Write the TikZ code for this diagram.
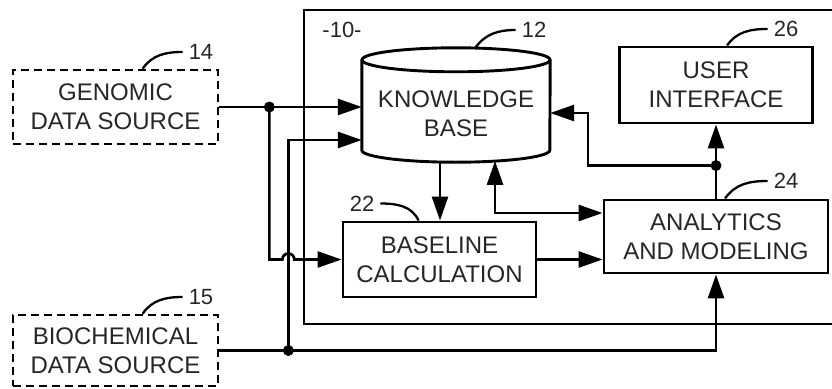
\documentclass[tikz,border=0pt]{standalone}
\usepackage{fontspec}
\setmainfont{Liberation Sans}
\usetikzlibrary{arrows.meta,calc}
\newcommand\dgmbox{\fontsize{24}{29}\selectfont}
\newcommand\dgmnum{\fontsize{22}{26}\selectfont}
\begin{document}
\begin{tikzpicture}[x=1pt,y=-1pt,
  wire/.style={line width=2.7pt},
  arr/.style={wire,-{Triangle[length=24pt,width=16pt]}},
  biarr/.style={wire,{Triangle[length=24pt,width=16pt]}-{Triangle[length=24pt,width=16pt]}},
  blk/.style={draw,line width=2.9pt,inner sep=0pt,align=center,font=\dgmbox,text=black!85},
  src/.style={blk,line width=2.7pt,dash pattern=on 8pt off 5pt},
  num/.style={font=\dgmnum,text=black!85,inner sep=0pt},
  lead/.style={line width=2.3pt},
  dot/.style={circle,fill,inner sep=0pt,minimum size=11pt}]
\useasboundingbox (0,0) rectangle (832,388);

% system frame (open to the right)
\draw[line width=2.9pt] (832,10) -- (304,10) -- (304,324) -- (832,324);
\node[num] (n10) at (342,30) {-10-};

% data sources
\node[src,minimum width=205pt,minimum height=74pt] (gen) at (115.5,107) {GENOMIC\\DATA SOURCE};
\node[src,minimum width=205pt,minimum height=71pt] (bio) at (115.5,350.5) {BIOCHEMICAL\\DATA SOURCE};

% knowledge base cylinder
\node[inner sep=0pt,minimum width=188pt,minimum height=90pt] (kb) at (456,105) {};
\draw[line width=2.9pt] (kb.north west) -- (kb.south west)
  arc[start angle=180,end angle=360,x radius=94pt,y radius=12pt] -- (kb.north east);
\draw[line width=2.9pt] (kb.north) ellipse [x radius=94pt,y radius=12pt];
\node[font=\dgmbox,align=center,text=black!85] (kbt) at (456,114) {KNOWLEDGE\\BASE};

% processing blocks
\node[blk,minimum width=193pt,minimum height=75pt] (bl) at (439.5,259.5) {BASELINE\\CALCULATION};
\node[blk,minimum width=224pt,minimum height=73pt] (an) at (716,236.5) {ANALYTICS\\AND MODELING};
\node[blk,minimum width=193pt,minimum height=76pt] (ui) at (716,85) {USER\\INTERFACE};

% branch points
\coordinate (j1) at ($(gen.east)+(50,0)$);
\coordinate (j2) at ($(bio.east)+(69,0)$);
\coordinate (j3) at ($(an.north)+(0,-33)$);
\coordinate (c1) at (588,113);
\coordinate (kbd) at (440,161.8);
\coordinate (kbu) at (495,160.9);

% connectors
\draw[arr] (gen.east) -- (kb.west |- gen.east);
\draw[arr] (j2) |- ($(kb.west)+(0,35)$);
\draw[arr] (j1) -- (j1 |- bl.west) -- ($(j2 |- bl.west)+(-6,0)$)
  arc[start angle=180,end angle=0,radius=6pt] -- (bl.west);
\draw[arr] (bio.east) -| (an.south);
\draw[arr] (kbd) -- (kbd |- bl.north);
\draw[biarr] (kbu) |- ($(an.west)+(0,-23.5)$);
\draw[arr] (bl.east) -- (an.west |- bl.east);
\draw[arr] (an.north) -- (ui.south);
\draw[arr] (j3) -| (c1) -- (kb.east |- c1);

\node[dot] (d1) at (j1) {};
\node[dot] (d2) at (j2) {};
\node[dot] (d3) at (j3) {};

% reference numerals with leaders
\node[num] (n14) at (201,52) {14};
\draw[lead] ($(gen.north west)+(131,0)$) to[out=55,in=180] ($(n14.west)+(-6,0)$);
\node[num] (n15) at (201,297) {15};
\draw[lead] ($(bio.north west)+(131,0)$) to[out=55,in=180] ($(n15.west)+(-6,0)$);
\node[num] (n12) at (534,30) {12};
\draw[lead] (475,48.2) to[out=55,in=180] ($(n12.west)+(-6,0)$);
\node[num] (n22) at (362,203.5) {22};
\draw[lead] ($(n22.east)+(6,0)$) to[out=0,in=115] ($(bl.north west)+(77,0)$);
\node[num] (n26) at (786,29) {26};
\draw[lead] ($(ui.north)+(11,0)$) to[out=55,in=180] ($(n26.west)+(-6,0)$);
\node[num] (n24) at (786,181) {24};
\draw[lead] ($(an.north)+(9,0)$) to[out=55,in=180] ($(n24.west)+(-6,0)$);
\end{tikzpicture}
\end{document}
